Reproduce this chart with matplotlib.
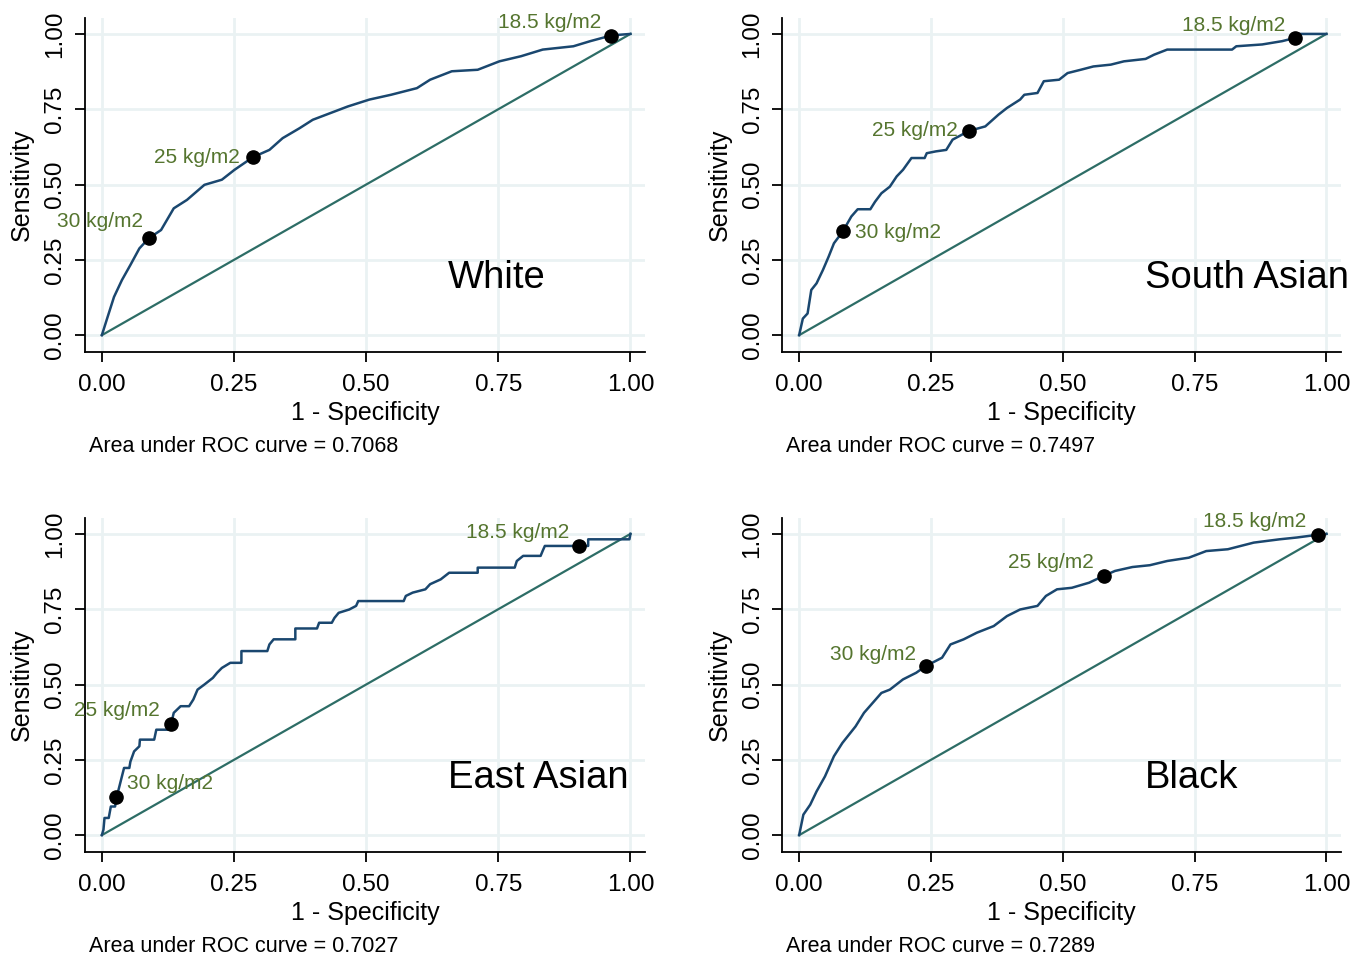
import numpy as np
import matplotlib.pyplot as plt

plt.rcParams['font.family'] = ['Liberation Sans', 'DejaVu Sans']

# ROC curves: (1 - specificity, sensitivity)
white_fpr = [0, 0.009, 0.023, 0.038, 0.054, 0.071, 0.089, 0.112, 0.136, 0.161, 0.194, 0.227, 0.251,
             0.286, 0.317, 0.342, 0.374, 0.399, 0.432, 0.465, 0.506, 0.547, 0.596, 0.621, 0.662,
             0.711, 0.752, 0.793, 0.834, 0.892, 0.924, 0.964, 1.0]
white_tpr = [0, 0.05, 0.127, 0.183, 0.233, 0.288, 0.322, 0.349, 0.421, 0.449, 0.499, 0.516, 0.549,
             0.591, 0.615, 0.654, 0.687, 0.715, 0.737, 0.759, 0.782, 0.798, 0.820, 0.848, 0.876,
             0.881, 0.909, 0.926, 0.948, 0.959, 0.976, 0.995, 1.0]

sasian_fpr = [0, 0.007, 0.016, 0.023, 0.033, 0.045, 0.056, 0.066, 0.083, 0.099, 0.111, 0.135, 0.144,
              0.156, 0.172, 0.185, 0.197, 0.213, 0.238, 0.242, 0.259, 0.279, 0.291, 0.322, 0.353,
              0.378, 0.394, 0.419, 0.427, 0.452, 0.464, 0.493, 0.509, 0.534, 0.558, 0.591, 0.616,
              0.657, 0.673, 0.698, 0.821, 0.829, 0.878, 0.916, 0.941, 0.944, 1.0]
sasian_tpr = [0, 0.055, 0.072, 0.150, 0.172, 0.216, 0.261, 0.305, 0.345, 0.394, 0.418, 0.418, 0.443,
              0.471, 0.493, 0.527, 0.549, 0.588, 0.588, 0.604, 0.610, 0.615, 0.649, 0.678, 0.693,
              0.732, 0.754, 0.782, 0.798, 0.804, 0.843, 0.848, 0.870, 0.881, 0.892, 0.898, 0.909,
              0.917, 0.931, 0.948, 0.948, 0.959, 0.965, 0.976, 0.987, 1.0, 1.0]

easian_fpr = [0, 0.003, 0.005, 0.013, 0.017, 0.025, 0.028, 0.042, 0.052, 0.054, 0.061, 0.071, 0.072,
              0.099, 0.103, 0.128, 0.131, 0.136, 0.149, 0.165, 0.173, 0.181, 0.194, 0.210, 0.218,
              0.227, 0.243, 0.264, 0.264, 0.313, 0.317, 0.325, 0.366, 0.366, 0.407, 0.411, 0.435,
              0.440, 0.448, 0.468, 0.481, 0.485, 0.571, 0.575, 0.588, 0.612, 0.621, 0.641, 0.657,
              0.711, 0.711, 0.781, 0.785, 0.797, 0.830, 0.834, 0.838, 0.903, 0.920, 0.920, 0.998, 1.0]
easian_tpr = [0, 0.018, 0.057, 0.057, 0.095, 0.095, 0.126, 0.223, 0.223, 0.244, 0.278, 0.295, 0.317,
              0.317, 0.350, 0.350, 0.369, 0.406, 0.428, 0.428, 0.450, 0.483, 0.500, 0.522, 0.539,
              0.555, 0.572, 0.572, 0.611, 0.611, 0.633, 0.650, 0.650, 0.686, 0.686, 0.705, 0.705,
              0.721, 0.738, 0.749, 0.761, 0.777, 0.777, 0.794, 0.805, 0.816, 0.833, 0.849, 0.871,
              0.871, 0.888, 0.888, 0.910, 0.927, 0.927, 0.944, 0.960, 0.960, 0.960, 0.982, 0.982, 1.0]

black_fpr = [0, 0.008, 0.021, 0.033, 0.049, 0.066, 0.082, 0.107, 0.123, 0.156, 0.172, 0.197, 0.222,
             0.240, 0.271, 0.287, 0.312, 0.337, 0.369, 0.394, 0.419, 0.452, 0.468, 0.489, 0.517,
             0.550, 0.578, 0.599, 0.632, 0.665, 0.698, 0.739, 0.772, 0.813, 0.862, 0.911, 0.944,
             0.983, 1.0]
black_tpr = [0, 0.068, 0.101, 0.145, 0.195, 0.262, 0.306, 0.361, 0.406, 0.472, 0.483, 0.517, 0.539,
             0.561, 0.589, 0.633, 0.650, 0.672, 0.694, 0.727, 0.749, 0.761, 0.794, 0.816, 0.821,
             0.838, 0.861, 0.877, 0.890, 0.896, 0.910, 0.921, 0.943, 0.949, 0.971, 0.982, 0.988,
             0.997, 1.0]

# BMI cut-off points (30, 25, 18.5 kg/m2)
cut_labels = ['30 kg/m2', '25 kg/m2', '18.5 kg/m2']
white_cut_x = [0.089, 0.286, 0.964]
white_cut_y = [0.322, 0.591, 0.993]
sasian_cut_x = [0.083, 0.322, 0.941]
sasian_cut_y = [0.345, 0.678, 0.987]
easian_cut_x = [0.027, 0.131, 0.903]
easian_cut_y = [0.126, 0.369, 0.960]
black_cut_x = [0.240, 0.578, 0.983]
black_cut_y = [0.561, 0.861, 0.997]

groups = ['White', 'South Asian', 'East Asian', 'Black']
auc = ['0.7068', '0.7497', '0.7027', '0.7289']

ticks = [0, 0.25, 0.5, 0.75, 1.0]
tick_labels = ['0.00', '0.25', '0.50', '0.75', '1.00']

# desplazamiento de etiquetas (pixeles) y alineacion, por panel y por punto de corte
offsets = [
    [(-6, 17, 'right'), (-13, 0, 'right'), (-10, 14, 'right')],
    [(12, -1, 'left'), (-11, 0, 'right'), (-10, 12, 'right')],
    [(11, 14, 'left'), (-11, 13, 'right'), (-10, 13, 'right')],
    [(-10, 12, 'right'), (-10, 13, 'right'), (-11, 13, 'right')],
]

curves = [(white_fpr, white_tpr, white_cut_x, white_cut_y),
          (sasian_fpr, sasian_tpr, sasian_cut_x, sasian_cut_y),
          (easian_fpr, easian_tpr, easian_cut_x, easian_cut_y),
          (black_fpr, black_tpr, black_cut_x, black_cut_y)]

# [left, bottom, width, height] en fraccion de figura
posiciones = [[0.062, 0.6333, 0.409, 0.348], [0.571, 0.6333, 0.408, 0.348],
              [0.062, 0.1125, 0.409, 0.348], [0.571, 0.1125, 0.408, 0.348]]

navy = '#1a476f'
teal = '#2d6d66'
verde = '#55752f'
grid_c = '#eaf2f3'

fig = plt.figure(figsize=(13.7, 9.6), dpi=100)

for i in range(4):
    ax = fig.add_axes(posiciones[i])

    fpr, tpr, cx, cy = curves[i]
    ax.plot([0, 1], [0, 1], color=teal, lw=1.6, zorder=2)
    ax.plot(fpr, tpr, color=navy, lw=1.8, zorder=3)
    ax.plot(cx, cy, 'o', color='black', markersize=9.5, zorder=4)
    for j in range(3):
        dx, dy, ha = offsets[i][j]
        ax.annotate(cut_labels[j], (cx[j], cy[j]), xytext=(dx, dy),
                    textcoords='offset pixels', ha=ha, va='center',
                    color=verde, fontsize=15, zorder=5)

    ax.text(0.655, 0.19, groups[i], fontsize=27.5, ha='left', va='center')
    ax.text(0.007, -0.284, 'Area under ROC curve = ' + auc[i], transform=ax.transAxes,
            fontsize=15.5, ha='left', va='center')

    ax.set_xlim(-0.032, 1.028)
    ax.set_ylim(-0.056, 1.053)
    ax.set_xticks(ticks)
    ax.set_xticklabels(tick_labels, fontsize=17.5)
    ax.set_yticks(ticks)
    ax.set_yticklabels(tick_labels, fontsize=17.5, rotation=90, va='center')
    ax.grid(True, color=grid_c, lw=2)
    ax.set_axisbelow(True)
    ax.spines['top'].set_visible(False)
    ax.spines['right'].set_visible(False)
    ax.spines['left'].set_linewidth(1.3)
    ax.spines['bottom'].set_linewidth(1.3)
    ax.tick_params(length=7, width=1.3)
    ax.tick_params(axis='x', pad=9)
    ax.tick_params(axis='y', pad=6.5)
    ax.set_xlabel('1 - Specificity', fontsize=18, va='center')
    ax.xaxis.set_label_coords(0.5, -0.1826)
    ax.set_ylabel('Sensitivity', fontsize=18, va='center')
    ax.yaxis.set_label_coords(-0.1125, 0.5)

fig.savefig('out.png', dpi=100)
